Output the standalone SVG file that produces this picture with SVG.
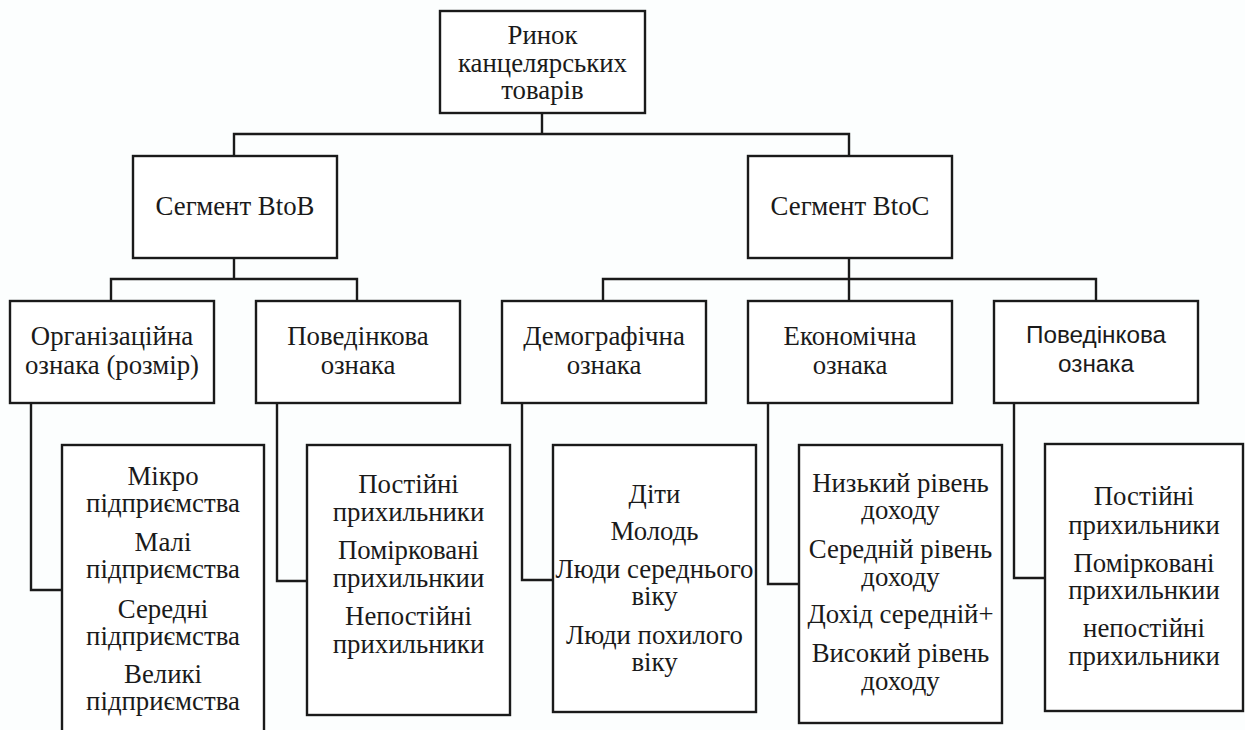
<svg xmlns="http://www.w3.org/2000/svg" width="1245" height="730" viewBox="0 0 1245 730">
<style>
.bg{fill:#fcfefe}
.box{fill:#ffffff;stroke:#1a1a1a;stroke-width:2.4}
.ln{fill:none;stroke:#1a1a1a;stroke-width:2.4}
.t{font-family:'Liberation Serif','Times New Roman',serif;font-size:26.8px;fill:#1a1a1a;text-anchor:middle}
.s{font-family:'Liberation Sans',Arial,sans-serif;font-size:24.3px;fill:#1a1a1a;text-anchor:middle}
</style>
<rect class="bg" x="0" y="0" width="1245" height="730"/>
<g id="connectors">
<path class="ln" d="M542 113V134M234 156V134H849V156"/>
<path class="ln" d="M234 258V279M111 301V279H357V301"/>
<path class="ln" d="M849 258V279M603 301V279H1096V301M849 279V301"/>
<path class="ln" d="M31 403V590H62"/>
<path class="ln" d="M277 403V581H307"/>
<path class="ln" d="M522 403V580H553"/>
<path class="ln" d="M768 403V584H799"/>
<path class="ln" d="M1014 403V578H1045"/>
</g>
<g id="root">
<rect class="box" x="440" y="11" width="205" height="102"/>
<text class="t" x="542.5" y="44">Ринок</text>
<text class="t" x="542.5" y="72">канцелярських</text>
<text class="t" x="542.5" y="99">товарів</text>
</g>
<g id="btob">
<rect class="box" x="133" y="156" width="204" height="102"/>
<text class="t" x="235" y="215">Сегмент BtoB</text>
</g>
<g id="btoc">
<rect class="box" x="748" y="156" width="204" height="102"/>
<text class="t" x="850" y="215">Сегмент BtoC</text>
</g>
<g id="h1">
<rect class="box" x="10" y="301" width="204" height="102"/>
<text class="t" x="112" y="345">Організаційна</text>
<text class="t" x="112" y="374">ознака (розмір)</text>
</g>
<g id="h2">
<rect class="box" x="256" y="301" width="204" height="102"/>
<text class="t" x="358" y="345">Поведінкова</text>
<text class="t" x="358" y="374">ознака</text>
</g>
<g id="h3">
<rect class="box" x="502" y="301" width="204" height="102"/>
<text class="t" x="604" y="345">Демографічна</text>
<text class="t" x="604" y="374">ознака</text>
</g>
<g id="h4">
<rect class="box" x="748" y="301" width="204" height="102"/>
<text class="t" x="850" y="345">Економічна</text>
<text class="t" x="850" y="374">ознака</text>
</g>
<g id="h5">
<rect class="box" x="994" y="301" width="204" height="102"/>
<text class="s" x="1096" y="343">Поведінкова</text>
<text class="s" x="1096" y="372">ознака</text>
</g>
<g id="d1">
<rect class="box" x="62" y="445" width="202" height="300"/>
<text class="t" x="163" y="485">Мікро</text>
<text class="t" x="163" y="512">підприємства</text>
<text class="t" x="163" y="551">Малі</text>
<text class="t" x="163" y="578">підприємства</text>
<text class="t" x="163" y="618">Середні</text>
<text class="t" x="163" y="645">підприємства</text>
<text class="t" x="163" y="683">Великі</text>
<text class="t" x="163" y="710">підприємства</text>
</g>
<g id="d2">
<rect class="box" x="307" y="445" width="203" height="270"/>
<text class="t" x="408.5" y="493">Постійні</text>
<text class="t" x="408.5" y="521">прихильники</text>
<text class="t" x="408.5" y="559">Помірковані</text>
<text class="t" x="408.5" y="587">прихильнкии</text>
<text class="t" x="408.5" y="625">Непостійні</text>
<text class="t" x="408.5" y="653">прихильники</text>
</g>
<g id="d3">
<rect class="box" x="553" y="445" width="203" height="267"/>
<text class="t" x="654.5" y="503">Діти</text>
<text class="t" x="654.5" y="540">Молодь</text>
<text class="t" x="654.5" y="578">Люди середнього</text>
<text class="t" x="654.5" y="605">віку</text>
<text class="t" x="654.5" y="644">Люди похилого</text>
<text class="t" x="654.5" y="671">віку</text>
</g>
<g id="d4">
<rect class="box" x="799" y="445" width="203" height="278"/>
<text class="t" x="900.5" y="492">Низький рівень</text>
<text class="t" x="900.5" y="519">доходу</text>
<text class="t" x="900.5" y="558">Середній рівень</text>
<text class="t" x="900.5" y="586">доходу</text>
<text class="t" x="900.5" y="623">Дохід середній+</text>
<text class="t" x="900.5" y="662">Високий рівень</text>
<text class="t" x="900.5" y="690">доходу</text>
</g>
<g id="d5">
<rect class="box" x="1045" y="444" width="198" height="267"/>
<text class="t" x="1144" y="505">Постійні</text>
<text class="t" x="1144" y="534">прихильники</text>
<text class="t" x="1144" y="572">Помірковані</text>
<text class="t" x="1144" y="599">прихильнкии</text>
<text class="t" x="1144" y="637">непостійні</text>
<text class="t" x="1144" y="665">прихильники</text>
</g>
</svg>
